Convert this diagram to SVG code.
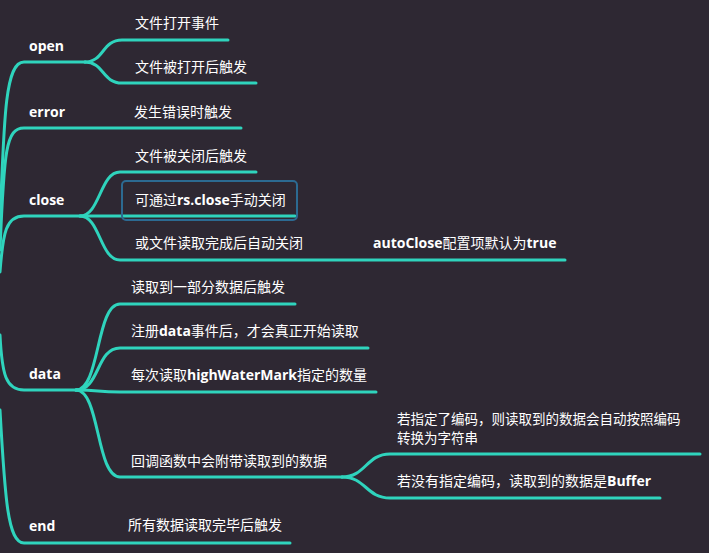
<svg xmlns="http://www.w3.org/2000/svg" width="709" height="553" viewBox="0 0 709 553">
<style>
.bg{fill:#2e2833}
.ln{fill:none;stroke:#2fd4bd;stroke-width:3;stroke-linecap:round}
.nd{font-family:"Open Sans","Noto Sans CJK SC",sans-serif;font-size:14px;font-weight:700;fill:#ffffff}
.tx{font-family:"Noto Sans CJK SC","Noto Sans",sans-serif;font-size:14px;fill:#ffffff}
.sm{font-size:13.5px}
.b{font-family:"Open Sans","Noto Sans CJK SC",sans-serif;font-weight:700}
.box{fill:none;stroke:#2c6a92;stroke-width:2}
</style>
<rect class="bg" x="0" y="0" width="709" height="553"/>
<g id="connectors">
<path class="ln" d="M 0 225 C 4 110, 6 62, 24 62 L 85 62"/>
<path class="ln" d="M 85 62 C 104 62, 102 40, 122 40 L 228 40"/>
<path class="ln" d="M 85 62 C 104 62, 102 83, 122 83 L 256 83"/>
<path class="ln" d="M 0 250 C 4 150, 6 128, 24 128 L 241 128"/>
<path class="ln" d="M 0 272 C 3 232, 6 216, 24 216 L 295 216"/>
<path class="ln" d="M 80 216 C 100 216, 100 172, 120 172 L 256 172"/>
<path class="ln" d="M 80 216 C 100 216, 100 260, 120 260 L 565 260"/>
<path class="ln" d="M 0 335 C 2 375, 6 390, 24 390 L 76 390"/>
<path class="ln" d="M 76 390 C 100 390, 96 304, 120 304 L 295 304"/>
<path class="ln" d="M 76 390 C 100 390, 96 348, 120 348 L 368 348"/>
<path class="ln" d="M 76 390 C 100 390, 96 392, 120 392 L 376 392"/>
<path class="ln" d="M 76 390 C 100 390, 96 477, 120 477 L 342 477"/>
<path class="ln" d="M 342 477 C 366 477, 366 454, 390 454 L 700 454"/>
<path class="ln" d="M 342 477 C 366 477, 366 498, 390 498 L 660 498"/>
<path class="ln" d="M 0 410 C 5 500, 8 543, 24 543 L 290 543"/>
</g>
<g id="open"><text class="nd" x="29" y="51">open</text></g>
<g id="open-1"><text class="tx" x="135" y="28">文件打开事件</text></g>
<g id="open-2"><text class="tx" x="135" y="72">文件被打开后触发</text></g>
<g id="error"><text class="nd" x="29" y="117">error</text></g>
<g id="error-1"><text class="tx" x="134" y="117">发生错误时触发</text></g>
<g id="close"><text class="nd" x="29" y="205">close</text></g>
<g id="close-1"><text class="tx" x="135" y="161">文件被关闭后触发</text></g>
<g id="close-2"><rect class="box" x="122" y="181" width="175" height="39" rx="4"/><text class="tx" x="135" y="205">可通过<tspan class="b">rs.close</tspan>手动关闭</text></g>
<g id="close-3"><text class="tx" x="135" y="248">或文件读取完成后自动关闭</text></g>
<g id="close-3-1"><text class="tx" x="373" y="248"><tspan class="b">autoClose</tspan>配置项默认为<tspan class="b">true</tspan></text></g>
<g id="data"><text class="nd" x="29" y="379">data</text></g>
<g id="data-1"><text class="tx" x="131" y="292">读取到一部分数据后触发</text></g>
<g id="data-2"><text class="tx" x="131" y="336">注册<tspan class="b">data</tspan>事件后，才会真正开始读取</text></g>
<g id="data-3"><text class="tx" x="131" y="380">每次读取<tspan class="b">highWaterMark</tspan>指定的数量</text></g>
<g id="data-4"><text class="tx" x="131" y="466">回调函数中会附带读取到的数据</text></g>
<g id="data-4-1"><text class="tx sm" x="397" y="424">若指定了编码，则读取到的数据会自动按照编码</text><text class="tx sm" x="397" y="443">转换为字符串</text></g>
<g id="data-4-2"><text class="tx" x="397" y="486">若没有指定编码，读取到的数据是<tspan class="b">Buffer</tspan></text></g>
<g id="end"><text class="nd" x="29" y="531">end</text></g>
<g id="end-1"><text class="tx" x="128" y="530">所有数据读取完毕后触发</text></g>
</svg>
